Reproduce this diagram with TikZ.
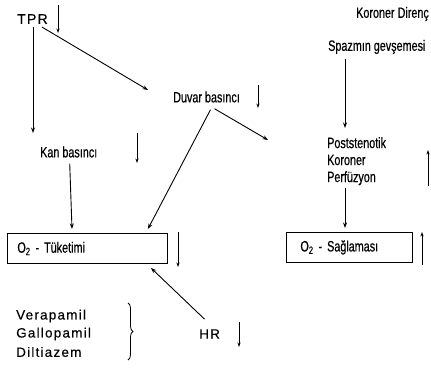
\documentclass[tikz,border=0pt]{standalone}
\usepackage{fontspec}
\setmainfont{Liberation Sans}
\newfontfamily\cond[FakeStretch=0.72,FakeBold=0.5]{Liberation Sans}
\newfontfamily\wide[LetterSpace=9,FakeBold=0.4]{Liberation Sans}
\usetikzlibrary{arrows.meta,calc,decorations.pathreplacing}
\begin{document}
\begin{tikzpicture}[x=1pt,y=-1pt,
  lbl/.style={font=\cond\fontsize{15}{16}\selectfont, inner sep=0pt, anchor=west},
  wlbl/.style={font=\wide\fontsize{13.5}{17}\selectfont, inner sep=0pt, anchor=west},
  arr/.style={-{Stealth[length=5.5pt,width=4pt]}, line width=0.9pt},
  sarr/.style={-{Stealth[length=4.5pt,width=3.2pt]}, line width=0.8pt},
  box/.style={draw, line width=0.9pt, minimum height=30pt, anchor=north west,
    inner ysep=0pt, align=left, font=\cond\fontsize{15}{16}\selectfont}]
\useasboundingbox (0,0) rectangle (431,368);
\clip (0,0) rectangle (431,368);

% left column
\node[inner sep=0pt, anchor=west, font=\wide\fontsize{14}{16}\selectfont] (tpr) at (17,19) {TPR};
\coordinate (tprA) at (58,5);
\coordinate (tprB) at (58,33);
\draw[sarr] (tprA) -- (tprB);

\node[lbl] (duvar) at (173,97) {Duvar basıncı};
\coordinate (duvA) at (258,85);
\coordinate (duvB) at (258,108);
\draw[sarr] (duvA) -- (duvB);

\node[lbl] (kan) at (40,152) {Kan basıncı};
\coordinate (kanA) at (137,133);
\coordinate (kanB) at (137,163);
\draw[sarr] (kanA) -- (kanB);

\node[box, minimum width=160pt, inner xsep=10pt, text width=140pt] (tuk) at (7,233) {O\textsubscript{2} - Tüketimi};
\coordinate (tukA) at (178,232);
\coordinate (tukB) at (178,267);
\draw[sarr] (tukA) -- (tukB);

% arrows
\coordinate (tprV) at ($(tpr.south west)+(16,3)$);
\coordinate (tprVend) at (33,133);
\draw[arr] (tprV) -- (tprVend);
\coordinate (tprD) at ($(tpr.south east)+(-6,3)$);
\draw[arr] (tprD) -- (148,90) coordinate (tprDend);

\coordinate (duvS1) at ($(duvar.south)+(4,7)$);
\draw[arr] (duvS1) -- ($(tuk.north east)+(-20,-4)$);
\coordinate (duvS2) at ($(duvar.south)+(8,6)$);
\coordinate (duvEnd) at (268,140);
\draw[arr] (duvS2) -- (duvEnd);

\draw[arr] ($(kan.south)+(1,6)$) -- ($(tuk.north west)+(65,-4)$);

% HR
\node[wlbl] (hr) at (199,334) {HR};
\coordinate (hrA) at (239,322);
\coordinate (hrB) at (239,347);
\draw[sarr] (hrA) -- (hrB);
\draw[arr] ($(hr.north)+(-5,-10)$) -- ($(tuk.south east)+(-17,4)$);

% drugs
\node[wlbl] (ver) at (16,316) {Verapamil};
\node[wlbl] (gal) at (16,334) {Gallopamil};
\node[wlbl] (dil) at (16,352) {Diltiazem};
\coordinate (brA) at (128,303);
\coordinate (brB) at (128,360);
\draw[decorate, decoration={brace, amplitude=5pt}, line width=0.8pt] (brA) -- (brB);

% right column
\node[lbl] (kor) at (356,14) {Koroner Direnç};
\node[lbl] (spaz) at (328,47) {Spazmın gevşemesi};
\draw[arr] ($(spaz.south west)+(17,5)$) -- (345,128) coordinate (spazEnd);

\node[lbl, align=left, font=\cond\fontsize{15}{17}\selectfont, anchor=north west] (post) at (327,137) {Poststenotik\\Koroner\\Perfüzyon};
\coordinate (postA) at (428,186);
\coordinate (postB) at (428,150);
\draw[sarr] (postA) -- (postB);

\node[box, minimum width=126pt, inner xsep=14pt, text width=98pt] (sag) at (286,232) {O\textsubscript{2} - Sağlaması};
\draw[arr] ($(post.south west)+(18,3)$) -- ($(sag.north west)+(59,-4)$);
\coordinate (sagA) at (422,265);
\coordinate (sagB) at (422,232);
\draw[sarr] (sagA) -- (sagB);
\end{tikzpicture}
\end{document}
